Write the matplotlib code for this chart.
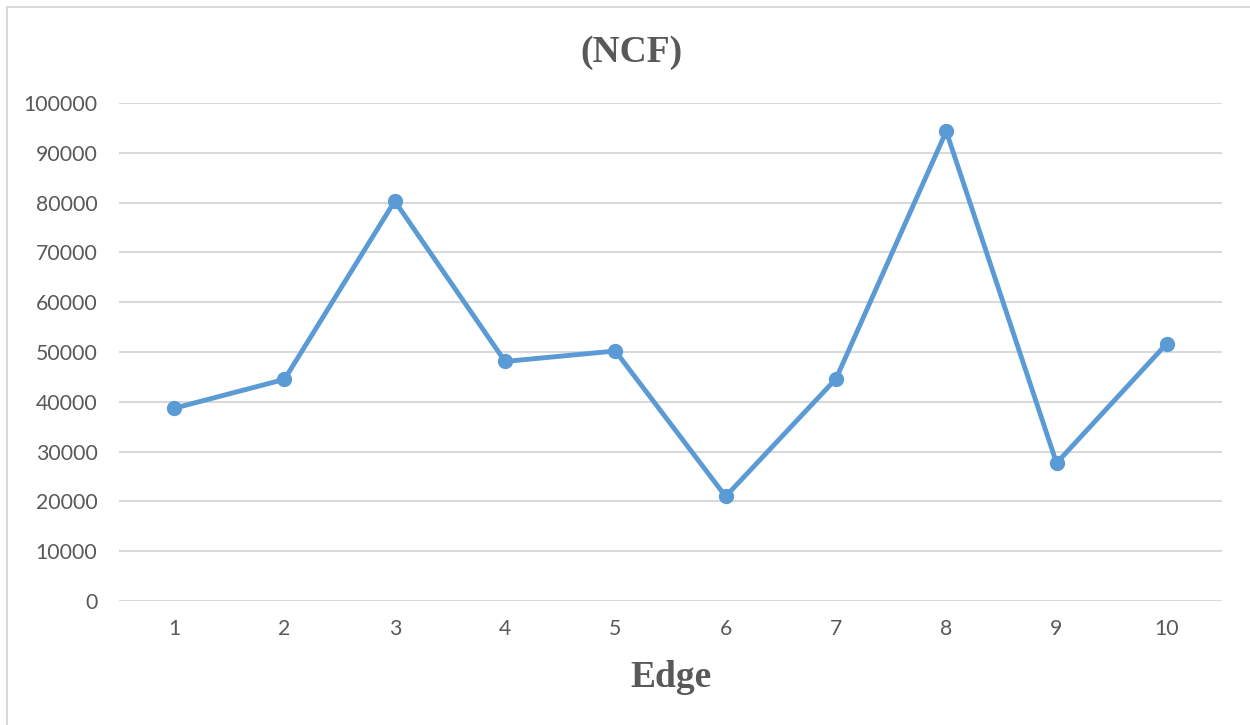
import matplotlib.pyplot as plt
from matplotlib.patches import Rectangle

# data
edges = [1, 2, 3, 4, 5, 6, 7, 8, 9, 10]
ncf = [38700, 44500, 80300, 48100, 50200, 21000, 44600, 94300, 27700, 51700]
yticks = list(range(0, 100001, 10000))

fig = plt.figure(figsize=(12.5, 7.25), dpi=100)
fig.patches.append(Rectangle((7 / 1250, -0.1), 1.2, 718 / 725 + 0.1,
                             transform=fig.transFigure, fill=False,
                             edgecolor='#D9D9D9', linewidth=1.5))

ax = fig.add_axes([0.0952, 0.171, 0.8824, 0.687])
ax.plot(edges, ncf, color='#5B9BD5', linewidth=3.5, marker='o',
        markersize=10, zorder=3)

ax.set_xlim(0.5, 10.5)
ax.set_ylim(0, 100000)
ax.set_yticks(yticks)
ax.set_xticks(edges)
ax.grid(axis='y', color='#D9D9D9', linewidth=1.5)
ax.set_axisbelow(True)
for s in ax.spines.values():
    s.set_visible(False)
ax.tick_params(length=0, labelsize=15.3, labelcolor='#595959')
ax.tick_params(axis='y', pad=15.5)
ax.tick_params(axis='x', pad=13)
for lab in ax.get_xticklabels() + ax.get_yticklabels():
    lab.set_family('Lato')

fig.text(0.5048, 0.928, '(NCF)', ha='center', va='center', fontsize=27,
         fontweight='bold', family='Liberation Serif', color='#595959')
fig.text(0.537, 0.065, 'Edge', ha='center', va='center', fontsize=27,
         fontweight='bold', family='Liberation Serif', color='#595959')

fig.savefig('out.png', dpi=100)
